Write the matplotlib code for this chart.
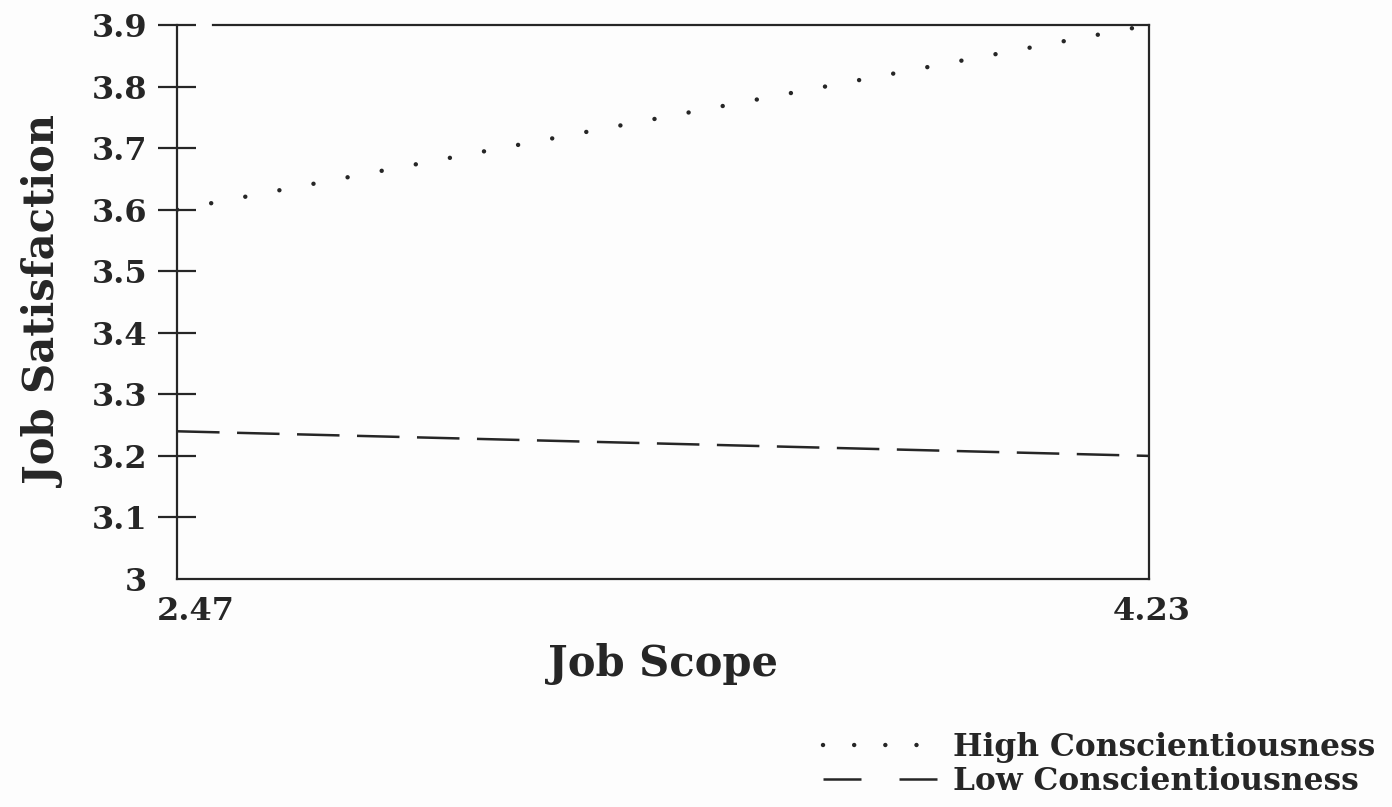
import matplotlib.pyplot as plt
import matplotlib.transforms as mtransforms
from matplotlib.lines import Line2D

# data
job_scope = [2.47, 4.23]
high_consc = [3.60, 3.90]
low_consc = [3.24, 3.20]
y_ticks = [3.0, 3.1, 3.2, 3.3, 3.4, 3.5, 3.6, 3.7, 3.8, 3.9]
y_labels = ["3", "3.1", "3.2", "3.3", "3.4", "3.5", "3.6", "3.7", "3.8", "3.9"]
x_labels = ["2.47", "4.23"]

ink = "#262626"
plt.rcParams["font.family"] = ["DejaVu Serif"]
plt.rcParams["font.weight"] = "bold"

fig = plt.figure(figsize=(13.92, 8.07), dpi=100, facecolor="#fdfdfd")
ax = fig.add_axes([0.1272, 0.2825, 0.6982, 0.6865], facecolor="#fdfdfd")

ax.plot(job_scope, high_consc, color=ink, lw=3.2, linestyle=(0, (0.01, 7.8)),
        dash_capstyle="round")
ax.plot(job_scope, low_consc, color=ink, lw=1.8, linestyle=(0, (17, 7)))

ax.set_xlim(job_scope[0], job_scope[1])
ax.set_ylim(3.0, 3.9)

for s in ax.spines.values():
    s.set_color(ink)
    s.set_linewidth(1.6)
# top border starts a little right of the y axis in the original
ax.spines["top"].set_bounds(2.535, 4.23)

ax.set_yticks(y_ticks)
ax.set_yticklabels(y_labels)
ax.set_xticks(job_scope)
ax.set_xticklabels(x_labels)
ax.tick_params(axis="y", direction="inout", length=27, width=1.6, color=ink,
               pad=8, labelsize=23, labelcolor=ink)
ax.tick_params(axis="x", length=0, pad=12, labelsize=23, labelcolor=ink)
ax.yaxis.get_major_ticks()[0].tick1line.set_visible(False)
for lbl in ax.get_yticklabels():
    lbl.set_fontweight("bold")
shifts = [19, 3]
for lbl, dx in zip(ax.get_xticklabels(), shifts):
    lbl.set_fontweight("bold")
    lbl.set_transform(lbl.get_transform() +
                      mtransforms.ScaledTranslation(dx / 100, 0, fig.dpi_scale_trans))

ax.set_xlabel("Job Scope", fontsize=30, fontweight="bold", color=ink, labelpad=12)
ax.set_ylabel("Job Satisfaction", fontsize=30, fontweight="bold", color=ink, labelpad=18)

handles = [
    Line2D([], [], color=ink, lw=3.2, linestyle=(0, (0.01, 7.0)), dash_capstyle="round"),
    Line2D([], [], color=ink, lw=1.8, linestyle=(0, (15.2, 15.2))),
]
leg = fig.legend(handles, ["High Conscientiousness", "Low Conscientiousness"],
                 loc="lower right", bbox_to_anchor=(0.988, 0.012), frameon=False,
                 borderpad=0, borderaxespad=0,
                 fontsize=22.5, handlelength=3.65, handletextpad=0.5, labelspacing=0.1)
for t in leg.get_texts():
    t.set_color(ink)
    t.set_fontweight("bold")

fig.savefig("out.png", dpi=100, facecolor=fig.get_facecolor())
